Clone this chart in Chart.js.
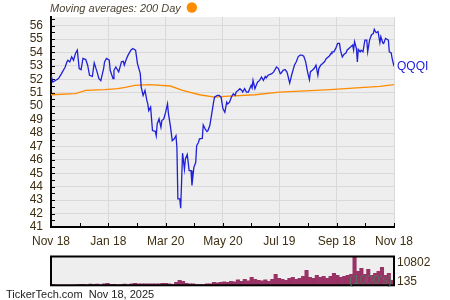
<!DOCTYPE html>
<html>
<head>
<meta charset="utf-8">
<script src="https://cdn.jsdelivr.net/npm/chart.js@4.4.1/dist/chart.umd.min.js"></script>
<style>
  html, body { margin: 0; padding: 0; background: #fff; }
  #wrap { position: relative; width: 450px; height: 300px; overflow: hidden; }
  canvas { position: absolute; left: 0; }
  #priceChart { top: 0; }
  #volumeChart { top: 250px; }
</style>
</head>
<body>
<div id="wrap">
  <canvas id="priceChart" width="450" height="250"></canvas>
  <canvas id="volumeChart" width="450" height="50"></canvas>
</div>
<script>
const ticker = "QQQI";
const titleText = "Moving averages: 200 Day";
const footerText = "TickerTech.com  Nov 18, 2025";
const volumeUnit = "(1000's)";

// x axis: days since Nov 18, 2024
const dateLabels = ["Nov 18", "Jan 18", "Mar 20", "May 20", "Jul 19", "Sep 18", "Nov 18"];
const dateDays = [0, 61, 122, 183, 243, 304, 365];
const priceTicks = [41, 42, 43, 44, 45, 46, 47, 48, 49, 50, 51, 52, 53, 54, 55, 56];

const priceDays = [0, 2, 8, 11, 15, 17, 18, 20, 22, 24, 26, 28, 30, 32, 34, 37, 39, 41, 44, 46,
  49, 51, 53, 56, 57, 59, 62, 63, 66, 67, 69, 72, 73, 75, 77, 78, 80, 82, 85, 87,
  90, 92, 95, 96, 98, 100, 102, 103, 104, 106, 108, 111, 112, 113, 115, 117, 118, 120, 122, 124,
  125, 127, 129, 131, 133, 134, 135, 137, 138, 140, 142, 143, 145, 147, 149, 150, 152, 154, 155, 157,
  158, 161, 162, 164, 166, 167, 169, 171, 173, 174, 177, 179, 181, 183, 184, 185, 187, 188, 190, 192,
  194, 196, 197, 199, 201, 203, 204, 206, 208, 210, 213, 214, 215, 217, 219, 220, 222, 224, 226, 228,
  229, 231, 235, 237, 240, 242, 244, 245, 247, 249, 251, 252, 254, 256, 258, 259, 261, 263, 265, 267,
  269, 271, 273, 275, 276, 278, 280, 282, 284, 285, 287, 289, 291, 293, 296, 298, 299, 301, 303, 305,
  307, 308, 310, 312, 314, 315, 317, 319, 321, 322, 323, 325, 326, 327, 329, 330, 332, 334, 336, 337,
  339, 341, 343, 344, 346, 348, 350, 351, 353, 354, 356, 358, 359, 360, 362, 363, 365];
const prices = [52.3, 51.8, 52.05, 52.4, 52.9, 53.3, 53.42, 53.29, 53.67, 53.42, 53.92, 54.17, 52.8, 52.72, 53.55, 53.47, 53.05, 52.3, 52.22, 53.22,
  52.55, 52.05, 51.9, 52.8, 53.3, 53.55, 53.42, 52.67, 52.05, 52.67, 52.92, 52.55, 52.8, 53.3, 53.34, 53.05, 53.47, 53.8, 54.17, 54.29,
  54.17, 53.17, 52.42, 51.42, 50.8, 51.17, 50.43, 50.17, 49.67, 49.93, 48.18, 48.13, 47.8, 48.68, 49.06, 48.43, 48.93, 49.05, 49.55, 50.17,
  49.42, 48.55, 47.43, 47.55, 47.8, 46.9, 43.1, 43.1, 42.4, 46.5, 45.3, 46.07, 46.4, 45.2, 45.2, 44.1, 45.44, 45.8, 47.06, 47.31,
  47.56, 47.6, 48.6, 48.31, 48.11, 48.18, 48.56, 49.4, 50.3, 50.67, 50.8, 50.8, 50.67, 49.8, 49.68, 49.55, 50.3, 50.17, 50.3, 50.68,
  50.93, 50.8, 51.05, 51.17, 51.3, 51.17, 51.05, 51.3, 51.05, 51.05, 51.55, 51.35, 51.92, 51.3, 51.67, 51.8, 51.92, 52.17, 51.92, 52.2,
  52.1, 52.3, 52.42, 52.55, 52.92, 52.8, 52.42, 52.47, 52.67, 52.72, 52.55, 52.3, 51.72, 52.3, 52.8, 53.05, 53.3, 53.67, 53.8, 53.8,
  53.72, 53.3, 52.55, 51.97, 52.55, 52.67, 52.8, 53.05, 52.3, 52.8, 53.05, 53.17, 53.3, 53.55, 53.72, 53.92, 54.05, 54.05, 54.3, 54.67,
  54.67, 54.17, 53.67, 53.87, 53.97, 54.17, 54.3, 54.42, 54.55, 54.17, 54.8, 54.3, 53.3, 54.22, 54.05, 54.17, 54.05, 54.92, 54.92, 54.05,
  54.92, 55.3, 55.42, 55.72, 55.47, 55.55, 54.72, 55.17, 54.72, 54.67, 55.05, 54.97, 54.92, 54.05, 53.97, 53.55, 52.97];

const maDays = [0, 26, 37, 57, 71, 79, 89, 105, 127, 140, 158, 174, 185, 217, 243, 265, 297, 329, 350, 365];
const maValues = [50.85, 50.93, 51.17, 51.23, 51.3, 51.4, 51.55, 51.6, 51.5, 51.17, 50.85, 50.67, 50.73, 50.85, 51.05, 51.12, 51.23, 51.38, 51.47, 51.6];

// volume in thousands
const volumes = [505, 200, 200, 246, 200, 246, 246, 320, 505, 505, 320, 579, 505, 579, 320, 690, 875, 505, 505, 320,
  431, 579, 320, 690, 875, 690, 690, 690, 690, 690, 690, 690, 875, 875, 690, 505, 1245, 1985, 1615, 875,
  690, 690, 431, 431, 431, 690, 690, 1245, 1060, 1245, 1430, 1245, 1615, 1430, 2170, 1615, 2355, 1800, 3095, 2355,
  1985, 1800, 2170, 1615, 2355, 4205, 2725, 2355, 1985, 2725, 3095, 2355, 2725, 3465, 5685, 3095, 2725, 3835, 3095, 3465,
  2725, 3465, 4575, 3835, 3095, 3465, 3835, 4205, 10802, 5315, 6425, 4205, 6055, 3835, 4575, 5315, 6795, 3835, 4575, 1985];
const volumeTicks = [135, 10802];

const textColor = "#3f2f12";
const fontFamily = "'Liberation Sans', Arial, sans-serif";
const gridColor = "#d9d9d9";
const plotBg = "#eeeeee";

const plotBackground = {
  id: "plotBackground",
  beforeDraw(chart) {
    const { ctx, chartArea: a } = chart;
    ctx.save();
    ctx.fillStyle = plotBg;
    ctx.fillRect(a.left, a.top, a.right - a.left, a.bottom - a.top);
    ctx.restore();
  }
};

// small ticks drawn inside the plot, major + minor
const innerTicks = {
  id: "innerTicks",
  beforeDatasetsDraw(chart) {
    const { ctx, chartArea: a, scales: { x, y } } = chart;
    ctx.save();
    ctx.strokeStyle = "#000";
    ctx.lineWidth = 1;
    ctx.beginPath();
    priceTicks.forEach(v => {
      [v, v + 0.5].forEach(t => {
        const py = Math.round(y.getPixelForValue(t)) + 0.5;
        if (py < a.top) return;
        ctx.moveTo(a.left, py);
        ctx.lineTo(a.left + 4, py);
      });
    });
    dateDays.forEach((d, i) => {
      const marks = [d];
      if (i < dateDays.length - 1) marks.push((d + dateDays[i + 1]) / 2);
      marks.forEach(t => {
        const px = Math.round(x.getPixelForValue(t)) + 0.5;
        ctx.moveTo(px, a.bottom);
        ctx.lineTo(px, a.bottom - 4);
      });
    });
    ctx.stroke();
    ctx.restore();
  }
};

const priceLabels = {
  id: "priceLabels",
  afterDraw(chart) {
    const { ctx, chartArea: a, scales: { y } } = chart;
    ctx.save();
    ctx.font = "italic 11px " + fontFamily;
    ctx.fillStyle = "#4d4433";
    ctx.textBaseline = "alphabetic";
    ctx.fillText(titleText, a.left - 1, 12);
    const w = ctx.measureText(titleText).width;
    ctx.fillStyle = "#ff8c00";
    ctx.beginPath();
    ctx.arc(a.left - 1 + w + 11, 7.5, 5.2, 0, Math.PI * 2);
    ctx.fill();

    const lastY = y.getPixelForValue(prices[prices.length - 1]);
    ctx.font = "12px " + fontFamily;
    ctx.fillStyle = "#2020d8";
    ctx.textBaseline = "middle";
    ctx.fillText(ticker, a.right + 3, lastY);
    ctx.restore();
  }
};

new Chart(document.getElementById("priceChart"), {
  type: "line",
  data: {
    datasets: [
      {
        label: ticker,
        data: priceDays.map((d, i) => ({ x: d, y: prices[i] })),
        borderColor: "#2020d8",
        borderWidth: 1.3,
        pointRadius: 0,
        tension: 0
      },
      {
        label: "200 Day",
        data: maDays.map((d, i) => ({ x: d, y: maValues[i] })),
        borderColor: "#ff8c00",
        borderWidth: 1.3,
        pointRadius: 0,
        tension: 0
      }
    ]
  },
  options: {
    responsive: false,
    animation: false,
    events: [],
    layout: { padding: { top: 17, right: 56, left: 0, bottom: 0 } },
    plugins: { legend: { display: false }, tooltip: { enabled: false } },
    scales: {
      x: {
        type: "linear",
        min: 0,
        max: 365,
        afterBuildTicks: s => { s.ticks = dateDays.map(v => ({ value: v })); },
        afterFit: s => { s.height = 23; },
        ticks: {
          callback: (v, i) => dateLabels[i],
          color: textColor,
          font: { family: fontFamily, size: 12 },
          padding: 7,
          maxRotation: 0,
          autoSkip: false
        },
        grid: { color: gridColor, drawTicks: false },
        border: { color: "#000", width: 2 }
      },
      y: {
        min: 41,
        max: 56.64,
        afterBuildTicks: s => { s.ticks = priceTicks.map(v => ({ value: v })); },
        afterFit: s => { s.width = 51; },
        ticks: {
          color: textColor,
          font: { family: fontFamily, size: 12 },
          padding: 8,
          autoSkip: false
        },
        grid: { color: gridColor, drawTicks: false },
        border: { color: "#000", width: 2 }
      }
    }
  },
  plugins: [plotBackground, innerTicks, priceLabels]
});

const volumeFrame = {
  id: "volumeFrame",
  afterDraw(chart) {
    const { ctx, chartArea: a, scales: { y } } = chart;
    ctx.save();
    ctx.strokeStyle = "#000";
    ctx.lineWidth = 2;
    ctx.strokeRect(a.left, a.top, a.right - a.left, a.bottom - a.top);

    ctx.font = "12px " + fontFamily;
    ctx.fillStyle = textColor;
    ctx.textBaseline = "middle";
    ctx.fillText(String(volumeTicks[1]), a.right + 3, y.getPixelForValue(volumeTicks[1]) + 6.5);
    ctx.fillText(String(volumeTicks[0]), a.right + 3, y.getPixelForValue(volumeTicks[0]) - 3.5);

    ctx.fillStyle = "#587060";
    ctx.textAlign = "right";
    ctx.fillText(volumeUnit, a.right - 2, a.bottom - 4.5);

    ctx.textAlign = "left";
    ctx.font = "11px " + fontFamily;
    ctx.fillStyle = "#222";
    ctx.fillText(footerText, 6, 44.5);
    ctx.restore();
  }
};

new Chart(document.getElementById("volumeChart"), {
  type: "bar",
  data: {
    labels: volumes.map((_, i) => i),
    datasets: [{
      data: volumes,
      backgroundColor: "#993366",
      borderWidth: 0,
      barPercentage: 1,
      categoryPercentage: 1
    }]
  },
  options: {
    responsive: false,
    animation: false,
    events: [],
    layout: { padding: { left: 51, right: 56, top: 6.5, bottom: 14.7 } },
    plugins: { legend: { display: false }, tooltip: { enabled: false } },
    scales: {
      x: { display: false },
      y: { display: false, min: volumeTicks[0], max: volumeTicks[1] }
    }
  },
  plugins: [plotBackground, volumeFrame]
});
</script>
</body>
</html>
